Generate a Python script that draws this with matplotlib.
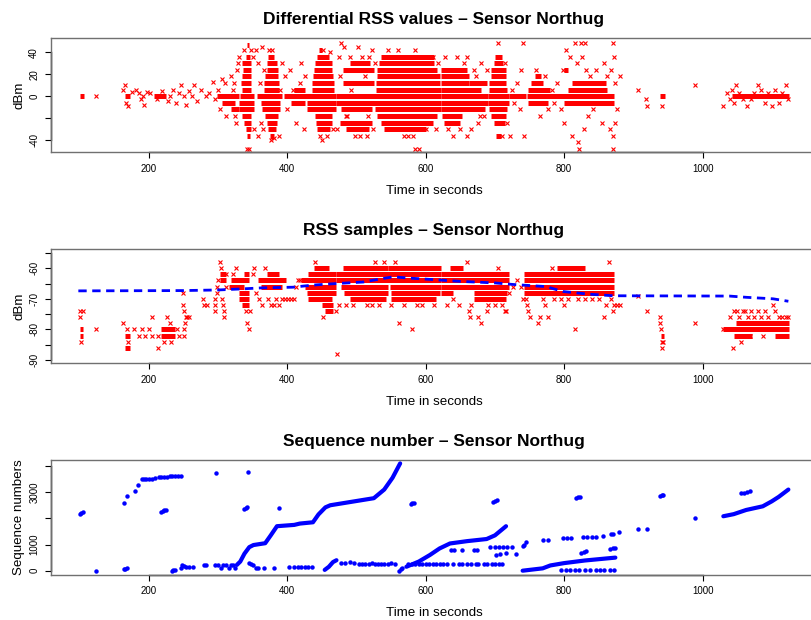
import matplotlib.pyplot as plt

plt.rcParams['font.family'] = ['Liberation Sans', 'DejaVu Sans']

# ---- data ----
# panel 1: differential RSS (dense stretches as (start, end, level), the rest as single points)
diff_bands = [
    (100, 106, 0), (166, 172, 0), (207, 224, 0),
    (298, 330, 0), (305, 325, -6), (318, 330, -12),
    (332, 352, 0), (334, 348, 6), (333, 348, 12), (334, 348, 18), (336, 348, 24), (335, 348, 30),
    (340, 346, 36), (341, 345, 47), (330, 352, -6), (330, 352, -12), (334, 348, -18),
    (337, 347, -24), (340, 347, -30), (341, 346, -36),
    (356, 392, 0), (366, 388, 6), (366, 388, 12), (368, 386, 18), (370, 386, 24), (370, 385, 30),
    (372, 380, 36), (362, 390, -6), (364, 390, -12), (368, 386, -18), (370, 385, -24),
    (372, 383, -30), (375, 380, -36),
    (395, 432, 0), (405, 425, -6), (410, 425, 6),
    (425, 470, 0), (428, 470, -6), (428, 470, -12), (435, 468, 6), (436, 468, 12), (437, 466, 18),
    (438, 465, 24), (440, 464, 30), (443, 460, 36), (440, 464, -18), (441, 464, -24),
    (443, 462, -30), (446, 450, 42),
    (470, 528, 0), (470, 528, -6), (478, 522, -12), (480, 525, 24), (490, 520, 30),
    (476, 522, -24), (485, 518, -30), (480, 525, 12),
    (527, 622, 0), (527, 622, -6), (527, 622, -12), (528, 622, 6), (528, 620, 12), (530, 620, 18),
    (530, 616, 24), (533, 612, 30), (536, 612, 36), (530, 616, -18), (535, 610, -24), (540, 600, -30),
    (622, 690, 0), (622, 690, -6), (622, 686, -12), (622, 680, 6), (622, 662, 12), (622, 662, 18),
    (622, 660, 24), (624, 652, -18), (626, 650, -24), (662, 688, 12),
    (690, 720, 0), (690, 720, -6), (691, 718, -12), (692, 718, 6), (692, 716, 12), (694, 716, 18),
    (694, 716, 24), (698, 712, 30), (700, 710, 36), (695, 716, -18), (698, 714, -24), (701, 709, -36),
    (720, 745, 0),
    (746, 872, 0), (748, 780, 6), (752, 770, 12), (748, 776, -6), (758, 766, 18),
    (800, 872, -6), (805, 862, 6), (812, 860, 12), (800, 806, 24),
    (938, 945, 0), (1042, 1125, 0),
]
diff_points = [
    (123, 0), (163, 6), (165, 10), (167, -6), (170, -9), (176, 4), (182, 6), (186, 3), (188, -3),
    (191, 0), (193, -8), (197, 4), (201, 3), (212, -3), (219, 5), (227, -4), (231, 0), (235, 6),
    (239, -6), (244, 3), (247, 10), (251, 0), (254, -8), (258, 5), (262, 0), (265, 10), (270, -4),
    (275, 6), (283, 0), (287, 3), (292, 13), (296, -3),
    (300, 6), (302, -12), (306, 16), (310, 12), (312, -18), (316, -6), (318, 18), (321, 6),
    (324, -18), (327, 24), (328, 30), (323, 12), (326, -24), (330, 36),
    (337, 42), (344, -48), (342, -48), (350, 36), (352, -30), (348, 42),
    (355, 42), (357, -36), (358, 30), (360, 12), (362, -24), (364, 45), (365, -30), (366, 24),
    (373, 42), (378, 42), (376, -40), (380, -38),
    (388, -36), (390, 6), (392, 30), (396, 18), (400, -12), (404, 24), (408, 6), (412, -24),
    (415, -6), (418, 12), (420, 30), (424, -30), (426, 18),
    (447, -36), (450, -40), (452, 42), (458, -36), (462, 40), (466, -30),
    (472, -30), (474, 36), (478, 48), (482, 45), (486, -18), (490, 36), (495, 30), (498, -36),
    (502, 45), (505, -36), (508, 36), (512, 18), (515, -36), (518, 36), (522, 42), (524, -30),
    (527, 30), (476, 18), (485, -18), (492, 6), (500, -24), (510, 12), (517, -18),
    (545, 42), (552, 36), (560, 42), (568, -36), (575, -36), (582, -36), (585, -48), (590, -48),
    (584, 42), (595, 36), (600, -30), (605, 30), (610, 36), (615, -30), (618, 30),
    (628, 36), (640, -36), (645, 36), (650, -30), (655, 30), (660, 36), (665, -30), (670, 24),
    (675, -24), (680, 30), (684, -18), (688, 24), (632, -30), (660, -36), (672, 18), (678, -18),
    (705, 48), (710, -36), (715, 30), (722, -36), (718, -24),
    (724, 6), (728, -6), (732, 12), (736, -12), (740, 48), (742, -36), (738, 24),
    (760, 24), (765, -18), (772, 18), (776, -12), (782, 6), (786, -6), (790, 12), (795, -12),
    (798, 24), (800, -24), (803, 42), (808, 36), (812, -36), (815, 48), (818, 30), (820, -42),
    (822, -48), (824, 48), (826, 36), (828, -30), (830, 48), (832, 24), (834, -18), (838, 18),
    (842, -12), (846, 24), (850, 12), (854, -24), (858, 30), (862, 18), (866, -30), (868, 24),
    (870, 48), (870, -48), (871, -36), (872, 36), (874, 12), (876, -12), (880, 18), (873, -24),
    (907, 6), (918, -3), (919, -9), (941, -9), (989, 10),
    (1030, -9), (1036, 3), (1040, -3), (1042, 6), (1045, -6), (1048, 10), (1052, 3), (1058, -3),
    (1064, -9), (1070, -3), (1075, 3), (1080, 10), (1085, 6), (1090, -6), (1095, 3), (1100, -9),
    (1105, 6), (1110, -6), (1115, 3), (1120, 10), (1124, -3),
]

# panel 2: RSS samples
rss_bands = [
    (100, 105, -80), (100, 105, -82), (166, 172, -86), (165, 172, -82),
    (218, 238, -80), (218, 238, -82),
    (302, 312, -62), (302, 312, -64),
    (318, 345, -64), (316, 338, -66), (330, 345, -70), (334, 345, -72), (330, 345, -68), (338, 345, -62),
    (358, 398, -64), (362, 392, -66), (370, 388, -62),
    (420, 470, -64), (425, 470, -66), (428, 470, -68), (430, 465, -70), (430, 470, -62),
    (438, 460, -60), (450, 466, -72), (455, 466, -74),
    (470, 548, -62), (470, 548, -64), (478, 545, -66), (482, 545, -68), (490, 542, -70), (480, 545, -60),
    (545, 622, -60), (545, 622, -62), (545, 622, -64), (548, 622, -66), (550, 620, -68), (550, 615, -70),
    (622, 720, -62), (622, 720, -64), (622, 720, -66), (622, 640, -68), (670, 718, -68),
    (670, 716, -70), (635, 654, -60),
    (742, 872, -62), (742, 872, -64), (742, 872, -66), (742, 872, -68), (790, 830, -60),
    (940, 944, -82),
    (1030, 1125, -80), (1049, 1125, -78), (1046, 1072, -82), (1104, 1125, -82),
]
rss_points = [
    (100, -74), (101, -76), (102, -84), (105, -74), (124, -80),
    (163, -78), (168, -80), (170, -84), (178, -80), (185, -82), (190, -80), (195, -82), (200, -80),
    (205, -82), (204, -76), (213, -86), (213, -82), (222, -84), (226, -76), (230, -78), (232, -84),
    (240, -80), (243, -82),
    (249, -68), (249, -72), (251, -74), (253, -76), (255, -76), (252, -78), (250, -80), (250, -82),
    (258, -76),
    (278, -70), (280, -72), (284, -72), (295, -70), (296, -72), (296, -74), (298, -66), (299, -68),
    (300, -64), (303, -58), (304, -60), (305, -70), (307, -72), (308, -74), (309, -76), (311, -62),
    (312, -66),
    (322, -62), (326, -60), (340, -74), (342, -78), (344, -80), (346, -74), (350, -62), (352, -60),
    (355, -68), (359, -70), (364, -72), (368, -60), (372, -70), (376, -72), (380, -72), (384, -70),
    (388, -72), (392, -70), (397, -70), (401, -70), (405, -70), (409, -70), (412, -66), (415, -64),
    (418, -64),
    (440, -58), (451, -76), (472, -88), (470, -74), (475, -72), (485, -72), (495, -72), (505, -70),
    (515, -72), (522, -72), (527, -58), (533, -72), (540, -58), (550, -72), (556, -58), (562, -78),
    (568, -72), (575, -70), (580, -80), (587, -72), (595, -72), (600, -70), (606, -70), (612, -72),
    (630, -72), (640, -70), (648, -72), (660, -58), (662, -74), (664, -76), (665, -72), (675, -76),
    (680, -78), (688, -74), (690, -72), (695, -70), (700, -72), (705, -60), (710, -72), (714, -74),
    (716, -74), (720, -68), (726, -66), (732, -64), (738, -66), (740, -70),
    (745, -70), (747, -72), (748, -74), (750, -76), (762, -78), (765, -76), (770, -70), (772, -72),
    (776, -76), (782, -60), (786, -70), (795, -70), (800, -72), (805, -70), (815, -80), (820, -70),
    (826, -60), (830, -70), (840, -70), (850, -70), (858, -76), (860, -72), (865, -58), (868, -70),
    (870, -74), (872, -72), (876, -72), (880, -72),
    (907, -69), (919, -74), (938, -76), (939, -78), (940, -80), (941, -84), (942, -86), (943, -84),
    (989, -78),
    (1030, -80), (1035, -80), (1040, -76), (1044, -86), (1046, -74), (1050, -74), (1052, -76),
    (1055, -84), (1058, -74), (1062, -74), (1065, -76), (1068, -82), (1070, -74), (1075, -76),
    (1080, -74), (1085, -76), (1088, -82), (1090, -74), (1095, -76), (1102, -72), (1104, -74),
    (1110, -76), (1115, -76), (1120, -76), (1124, -76),
]
rss_mean_t = [98, 250, 300, 330, 365, 408, 437, 471, 510, 534, 553, 575, 610, 650, 700, 726,
              774, 798, 837, 871, 1039, 1063, 1102, 1124]
rss_mean_v = [-67.4, -67.3, -67.1, -66.8, -66.4, -66.2, -65.5, -65.0, -64.5, -63.5, -62.8, -63.2,
              -63.7, -64.3, -64.8, -65.3, -66.0, -67.6, -68.5, -69.0, -69.1, -69.5, -70.0, -70.8]

# panel 3: sequence numbers (continuous runs as polylines, the rest as dots)
seq_runs = [
    [(327, 220), (332, 350), (338, 650), (345, 900), (351, 980), (368, 1050), (376, 1350),
     (385, 1700), (410, 1750), (418, 1800), (437, 1850), (445, 2150), (455, 2420), (462, 2500),
     (490, 2620), (525, 2770), (540, 3100), (552, 3550), (563, 4100)],
    [(572, 150), (590, 350), (606, 600), (620, 850), (635, 1040), (660, 1130), (688, 1210),
     (700, 1350), (716, 1700)],
    [(740, 0), (769, 90), (780, 200), (800, 290), (830, 390), (874, 500)],
    [(1030, 2080), (1045, 2160), (1063, 2320), (1087, 2460), (1100, 2650), (1110, 2820), (1124, 3100)],
    [(454, 30), (460, 150), (466, 330), (471, 400)],
]
seq_points = [
    (100, 2170), (102, 2200), (104, 2250), (124, 0), (164, 60), (166, 80), (168, 100), (164, 2600),
    (168, 2870), (180, 3050), (184, 3270), (190, 3510), (193, 3500), (196, 3510), (200, 3520),
    (205, 3520), (209, 3530), (214, 3570), (218, 3580), (222, 3580), (226, 3590), (230, 3600),
    (234, 3600), (238, 3610), (242, 3620), (246, 3620), (218, 2250), (220, 2280), (222, 2300),
    (224, 2330), (233, 0), (235, 20), (237, 40), (246, 120), (248, 200), (250, 170), (253, 140),
    (258, 150), (263, 160), (279, 200), (283, 200), (297, 3720), (296, 220), (300, 220), (304, 90),
    (307, 220), (311, 220), (315, 90), (318, 210), (321, 220), (324, 100), (343, 3784),
    (338, 2370), (340, 2400), (342, 2440), (344, 280), (347, 240), (350, 220), (355, 90), (358, 90),
    (366, 90), (380, 90), (388, 2410), (402, 130), (410, 130), (415, 130), (420, 130), (425, 130),
    (430, 130), (436, 130), (478, 290), (484, 300), (490, 320), (496, 280), (504, 270), (508, 270),
    (512, 270), (518, 270), (522, 280), (527, 270), (531, 270), (535, 270), (540, 270), (546, 270),
    (550, 280), (556, 270), (562, 0), (564, 60), (566, 100), (578, 2540), (580, 2570), (583, 2600),
    (575, 270), (580, 270), (585, 270), (590, 270), (595, 260), (600, 260), (605, 260), (610, 260),
    (615, 260), (620, 260), (625, 260), (630, 260), (640, 260), (648, 260), (652, 260), (660, 260),
    (665, 260), (672, 260), (676, 260), (684, 260), (688, 260), (696, 260), (700, 260), (706, 260),
    (710, 260),
    (636, 790), (641, 790), (652, 790), (670, 790), (674, 790), (693, 900), (700, 900), (706, 900),
    (712, 900), (718, 900), (724, 900), (702, 600), (708, 620), (716, 660), (731, 630), (740, 950),
    (742, 1000), (745, 1080), (697, 2640), (700, 2670), (703, 2700),
    (769, 1180), (776, 1180), (798, 1245), (804, 1245), (810, 1245), (827, 1300), (833, 1300),
    (840, 1300), (846, 1300), (856, 1340), (868, 1390), (870, 1420), (879, 1480), (907, 1580),
    (919, 1610), (817, 2790), (820, 2810), (823, 2830), (938, 2860), (941, 2880), (943, 2900),
    (989, 2000), (1056, 2960), (1060, 2980), (1064, 3000), (1068, 3030),
    (796, 30), (802, 30), (808, 30), (815, 30), (822, 30), (830, 30), (837, 30), (846, 30),
    (852, 30), (858, 30), (866, 30), (872, 30),
    (825, 690), (828, 730), (831, 760), (866, 830), (870, 860), (873, 880),
]

x_ticks = [200, 400, 600, 800, 1000]


def r_style(ax, ylim, yticks, ylabels, title, ylabel):
    # base-R look: grey box, black axis line only between first and last tick
    ax.set_xlim(58, 1166)
    ax.set_ylim(*ylim)
    for s in ax.spines.values():
        s.set_color('#707070')
        s.set_linewidth(1.0)
    ax.set_xticks(x_ticks)
    ax.set_xticklabels([str(t) for t in x_ticks], fontsize=7)
    ax.set_yticks(yticks)
    ax.set_yticklabels(ylabels, fontsize=7, rotation=90, va='center')
    ax.tick_params(length=4.2, width=0.8, pad=4)
    ax.plot([x_ticks[0], x_ticks[-1]], [0, 0], transform=ax.get_xaxis_transform(),
            color='black', lw=1.0, clip_on=False)
    ax.plot([0, 0], [yticks[0], yticks[-1]], transform=ax.get_yaxis_transform(),
            color='black', lw=1.0, clip_on=False)
    ax.set_title(title, fontsize=12.5, fontweight='bold', pad=10)
    ax.set_xlabel('Time in seconds', fontsize=9.6, labelpad=8)
    ax.set_ylabel(ylabel, fontsize=9.6, labelpad=3)


fig = plt.figure(figsize=(8.12, 6.2), dpi=100)
ax1 = fig.add_axes([0.0624, 0.7544, 0.9443, 0.1839])
ax2 = fig.add_axes([0.0624, 0.414, 0.9443, 0.1839])
ax3 = fig.add_axes([0.0624, 0.0726, 0.9443, 0.1855])

# differential RSS
ax1.hlines([b[2] for b in diff_bands], [b[0] for b in diff_bands], [b[1] for b in diff_bands],
           color='red', lw=3.6)
ax1.plot([p[0] for p in diff_points], [p[1] for p in diff_points], 'x', color='red',
         ms=3.3, mew=0.8)
r_style(ax1, (-51, 52.7), [-40, -20, 0, 20, 40], ['-40', '', '0', '20', '40'],
        'Differential RSS values \u2013 Sensor Northug', 'dBm')

# RSS samples
ax2.hlines([b[2] for b in rss_bands], [b[0] for b in rss_bands], [b[1] for b in rss_bands],
           color='red', lw=3.6)
ax2.plot([p[0] for p in rss_points], [p[1] for p in rss_points], 'x', color='red',
         ms=3.3, mew=0.8)
ax2.plot(rss_mean_t, rss_mean_v, color='blue', lw=2.0, dashes=(3, 2))
r_style(ax2, (-91.1, -53.8), [-90, -85, -80, -75, -70, -65, -60, -55],
        ['-90', '', '-80', '', '-70', '', '-60', ''],
        'RSS samples \u2013 Sensor Northug', 'dBm')

# sequence numbers
for run in seq_runs:
    ax3.plot([p[0] for p in run], [p[1] for p in run], color='blue', lw=3.0,
             solid_capstyle='round', solid_joinstyle='round')
ax3.plot([p[0] for p in seq_points], [p[1] for p in seq_points], 'o', color='blue', ms=3.2,
         mew=0)
r_style(ax3, (-164, 4230), [0, 1000, 2000, 3000, 4000], ['0', '1000', '', '3000', ''],
        'Sequence number \u2013 Sensor Northug', 'Sequence numbers')

fig.savefig('out.png', dpi=100)
